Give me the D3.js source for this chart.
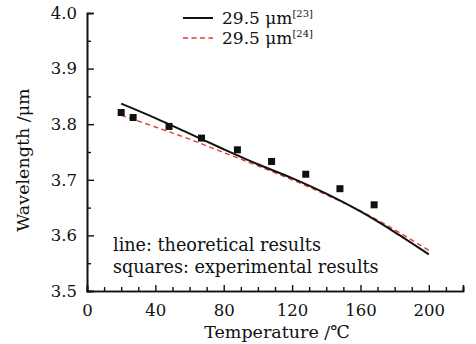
<!DOCTYPE html>
<html lang="en">
<head>
<meta charset="utf-8">
<title>Wavelength vs temperature</title>
<script src="https://d3js.org/d3.v7.min.js"></script>
<style>
  body{margin:0;background:#fff;}
  svg text{fill:#111;font-family:"DejaVu Serif",serif;}
</style>
</head>
<body>
<div id="chart"></div>
<script>
// theoretical curves
var lineTemps = [20, 40, 60, 80, 100, 120, 140, 160, 180, 200]
var line23 = [3.837, 3.811, 3.783, 3.755, 3.728, 3.703, 3.675, 3.643, 3.606, 3.566]
var line24 = [3.816, 3.795, 3.773, 3.749, 3.725, 3.700, 3.673, 3.644, 3.610, 3.573]

// measured points
var expTemps = [20, 27, 48, 67, 88, 108, 128, 148, 168]
var expValues = [3.821, 3.812, 3.796, 3.775, 3.754, 3.733, 3.710, 3.684, 3.655]

var xTicks = [0, 40, 80, 120, 160, 200]
var yTicks = [3.5, 3.6, 3.7, 3.8, 3.9, 4.0]

var w = 476, h = 344

var svg = d3.select("#chart").append("svg")
    .attr("width", w).attr("height", h)

var x = d3.scaleLinear().domain([0, 220]).range([87, 463])
var y = d3.scaleLinear().domain([3.5, 4.0]).range([291, 13])

// axes, ticks pointing inward
var xMinor = d3.range(0, 221, 10).filter(function(d){ return xTicks.indexOf(d) == -1 })
var yMinor = d3.range(3.55, 4.0, 0.1)

svg.append("g").attr("transform", "translate(0,291)")
    .call(d3.axisBottom(x).tickValues(xMinor).tickSize(-4).tickFormat(""))
svg.append("g").attr("transform", "translate(0,291)")
    .call(d3.axisBottom(x).tickValues(xTicks).tickSize(-6).tickPadding(13).tickFormat(d3.format("d")))

svg.append("g").attr("transform", "translate(87,0)")
    .call(d3.axisLeft(y).tickValues(yMinor).tickSize(-4).tickFormat(""))
svg.append("g").attr("transform", "translate(87,0)")
    .call(d3.axisLeft(y).tickValues(yTicks).tickSize(-7).tickPadding(10).tickFormat(d3.format(".1f")))

svg.selectAll(".tick text").attr("font-size", 16.5)
svg.selectAll(".domain").attr("stroke", "#111").attr("stroke-width", 1.6)
svg.selectAll(".tick line").attr("stroke", "#111").attr("stroke-width", 1.4)

// axis titles
svg.append("text").attr("x", 277).attr("y", 338).attr("text-anchor", "middle")
    .attr("font-size", 17.5).text("Temperature /\u2103")
svg.append("text").attr("transform", "translate(29,160) rotate(-90)")
    .attr("text-anchor", "middle").attr("font-size", 17.5).text("Wavelength /\u03bcm")

// curves
var line = d3.line().curve(d3.curveCatmullRom)
    .x(function(d){ return x(d[0]) }).y(function(d){ return y(d[1]) })

svg.append("path").datum(lineTemps.map(function(t, i){ return [t, line24[i]] }))
    .attr("d", line).attr("fill", "none").attr("stroke", "#e8392f")
    .attr("stroke-width", 1.4).attr("stroke-dasharray", "5,3.5")
svg.append("path").datum(lineTemps.map(function(t, i){ return [t, line23[i]] }))
    .attr("d", line).attr("fill", "none").attr("stroke", "#111").attr("stroke-width", 2)

svg.selectAll("rect.pt").data(expTemps).enter().append("rect")
    .attr("class", "pt")
    .attr("x", function(d){ return x(d) - 3.5 })
    .attr("y", function(d, i){ return y(expValues[i]) - 3.5 })
    .attr("width", 7).attr("height", 7).attr("fill", "#111")

// legend
var legend = [
  {ref: "23", color: "#111", dash: null, width: 2, y: 18},
  {ref: "24", color: "#e8392f", dash: "5,3.5", width: 1.4, y: 38}
]
legend.forEach(function(l){
  svg.append("line").attr("x1", 183).attr("x2", 213).attr("y1", l.y).attr("y2", l.y)
      .attr("stroke", l.color).attr("stroke-width", l.width).attr("stroke-dasharray", l.dash)
  var t = svg.append("text").attr("x", 222).attr("y", l.y + 6).attr("font-size", 17)
  t.append("tspan").text("29.5 \u03bcm")
  t.append("tspan").attr("font-size", 10).attr("dy", -7).text("[" + l.ref + "]")
})

// notes
svg.append("text").attr("x", 113).attr("y", 251).attr("font-size", 17.6).text("line: theoretical results")
svg.append("text").attr("x", 113).attr("y", 273).attr("font-size", 17.6).text("squares: experimental results")
</script>
</body>
</html>
